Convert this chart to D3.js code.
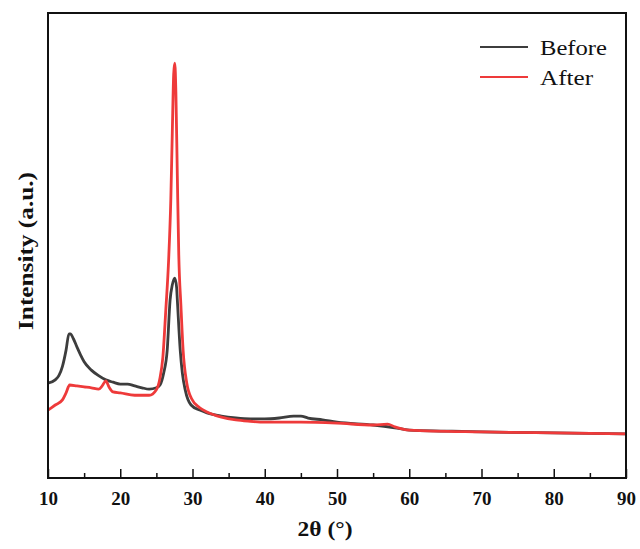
<!DOCTYPE html>
<html>
<head>
<meta charset="utf-8">
<script src="https://cdn.jsdelivr.net/npm/d3@7"></script>
<style>
  body { margin: 0; background: #fff; }
  svg text { font-family: "Liberation Serif", "Times New Roman", serif; fill: #111; }
</style>
</head>
<body>
<div id="chart"></div>
<script>
'use strict'

// 2θ positions (degrees) and intensities (a.u.)
const beforeAngle = [10, 11, 11.5, 12, 12.5, 12.9, 13.1, 13.5, 14, 14.5, 15, 16, 17, 18, 19, 20, 21, 22, 23, 24, 25, 25.5, 26, 26.5, 26.9, 27.2, 27.55, 27.8, 27.9, 28.3, 28.6, 29, 29.8, 31, 32, 34, 36, 38, 40, 42, 44, 45, 46, 48, 50, 55, 58, 60, 65, 70, 80, 90]
const beforeValue = [204, 211, 220, 240, 275, 310, 310, 300, 282, 265, 250, 232, 220, 211, 206, 202, 202, 198, 194, 191, 194, 200, 225, 275, 383, 415, 430, 410, 383, 275, 225, 189, 157, 146, 140, 133, 129, 127, 127, 129, 133, 133, 129, 125, 120, 114, 108, 103, 101, 99, 97, 95]

const afterAngle = [10, 11, 12, 12.5, 13, 14, 15, 16, 17, 17.5, 18, 18.5, 19, 20, 22, 24, 25, 25.5, 25.9, 26.3, 26.7, 27, 27.2, 27.4, 27.55, 27.7, 27.9, 28.1, 28.4, 28.7, 29.2, 29.9, 31, 32, 34, 36, 38, 40, 45, 50, 55, 57, 58, 60, 70, 80, 90]
const afterValue = [146, 157, 168, 183, 200, 198, 196, 194, 191, 198, 209, 194, 185, 183, 178, 178, 190, 215, 260, 360, 470, 600, 740, 870, 892, 830, 650, 480, 370, 275, 205, 170, 151, 142, 131, 125, 122, 120, 120, 118, 114, 116, 110, 103, 99, 97, 95]

const xTicks = [10, 20, 30, 40, 50, 60, 70, 80, 90]
const seriesNames = ['Before', 'After']
const seriesColors = ['#3d3d3d', '#ee3a3a']
const legendWidths = [67, 53]

const W = 640, H = 549
const m = {left: 48, right: 14, top: 13, bottom: 71}

const svg = d3.select('#chart').append('svg')
  .attr('width', W)
  .attr('height', H)

const x = d3.scaleLinear().domain([10, 90]).range([m.left, W - m.right])
const y = d3.scaleLinear().domain([0, 1000]).range([H - m.bottom, m.top])

const line = d3.line()
  .x((d) => x(d[0]))
  .y((d) => y(d[1]))
  .curve(d3.curveMonotoneX)

const series = [
  d3.zip(beforeAngle, beforeValue),
  d3.zip(afterAngle, afterValue),
]

series.forEach((s, i) => {
  svg.append('path')
    .datum(s)
    .attr('fill', 'none')
    .attr('stroke', seriesColors[i])
    .attr('stroke-width', 2.8)
    .attr('stroke-linejoin', 'round')
    .attr('d', line)
})

// minor ticks (every 5 degrees)
const xMinor = d3.axisBottom(x).tickValues(d3.range(15, 90, 10)).tickSize(-5).tickFormat('')
svg.append('g')
  .attr('transform', 'translate(0,' + (H - m.bottom) + ')')
  .call(xMinor)
  .call((g) => g.select('.domain').remove())
  .call((g) => g.selectAll('line').attr('stroke', '#111').attr('stroke-width', 1.5))

// major ticks
const xAxis = d3.axisBottom(x).tickValues(xTicks).tickSize(-9).tickPadding(14).tickFormat(d3.format('d'))
svg.append('g')
  .attr('transform', 'translate(0,' + (H - m.bottom) + ')')
  .call(xAxis)
  .call((g) => g.select('.domain').remove())
  .call((g) => g.selectAll('line').attr('stroke', '#111').attr('stroke-width', 1.5))
  .call((g) => g.selectAll('text')
    .attr('font-size', 19)
    .attr('font-weight', 'bold')
    .attr('font-family', '"Liberation Serif", serif')
    .attr('fill', '#111'))

// frame
svg.append('rect')
  .attr('x', m.left)
  .attr('y', m.top)
  .attr('width', W - m.left - m.right)
  .attr('height', H - m.top - m.bottom)
  .attr('fill', 'none')
  .attr('stroke', '#111')
  .attr('stroke-width', 2)

// axis titles
svg.append('text')
  .attr('x', 325)
  .attr('y', 536)
  .attr('text-anchor', 'middle')
  .attr('font-size', 21)
  .attr('font-weight', 'bold')
  .attr('textLength', 55)
  .attr('lengthAdjust', 'spacingAndGlyphs')
  .text('2θ (°)')

svg.append('text')
  .attr('transform', 'translate(33,' + 251 + ')rotate(-90)')
  .attr('text-anchor', 'middle')
  .attr('font-size', 21)
  .attr('font-weight', 'bold')
  .attr('textLength', 158)
  .attr('lengthAdjust', 'spacingAndGlyphs')
  .text('Intensity (a.u.)')

// legend
const legend = svg.append('g')
seriesNames.forEach((name, i) => {
  const ly = 47 + i * 30
  legend.append('line')
    .attr('x1', 480).attr('x2', 528)
    .attr('y1', ly).attr('y2', ly)
    .attr('stroke', seriesColors[i])
    .attr('stroke-width', 2)
  legend.append('text')
    .attr('x', 540)
    .attr('y', ly + 8)
    .attr('font-size', 22)
    .attr('textLength', legendWidths[i])
    .attr('lengthAdjust', 'spacingAndGlyphs')
    .text(name)
})
</script>
</body>
</html>
